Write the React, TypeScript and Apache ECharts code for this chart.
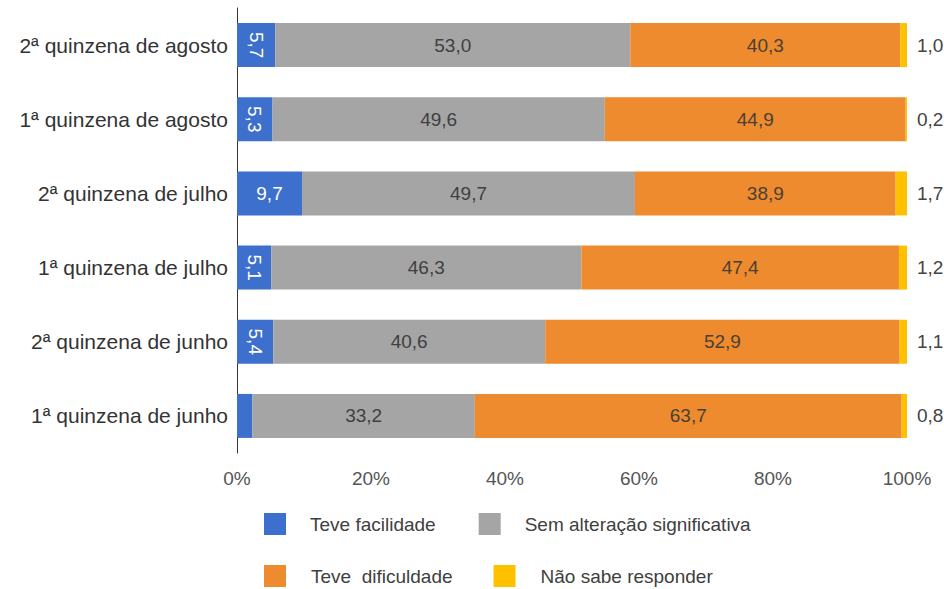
import React, { useEffect, useRef } from "react";
import * as echarts from "echarts";

const categories = [
  "2ª quinzena de agosto",
  "1ª quinzena de agosto",
  "2ª quinzena de julho",
  "1ª quinzena de julho",
  "2ª quinzena de junho",
  "1ª quinzena de junho",
];
const facilidade = [5.7, 5.3, 9.7, 5.1, 5.4, 2.3];
const semAlteracao = [53.0, 49.6, 49.7, 46.3, 40.6, 33.2];
const dificuldade = [40.3, 44.9, 38.9, 47.4, 52.9, 63.7];
const naoSabe = [1.0, 0.2, 1.7, 1.2, 1.1, 0.8];
const xTicks = [0, 20, 40, 60, 80, 100];

const seriesNames = [
  "Teve facilidade",
  "Sem alteração significativa",
  "Teve  dificuldade",
  "Não sabe responder",
];
const colors = ["#3d6fcc", "#a5a5a5", "#ee8b2e", "#ffc000"];

const fmt = (v: number) => v.toFixed(1).replace(".", ",");
const FONT = "'Liberation Sans', Arial, sans-serif";

export default function App() {
  const ref = useRef<HTMLDivElement>(null);
  useEffect(() => {
    if (!ref.current) return;
    const chart = echarts.init(ref.current, undefined, { renderer: "svg" });

    const blueData = facilidade.map((v) => ({
      value: v,
      label: {
        show: v >= 3,
        rotate: v < 9 ? -90 : 0,
      },
    }));

    const labelBase = {
      show: true,
      fontSize: 19,
      fontFamily: FONT,
      formatter: (p: any) => fmt(p.value),
    };

    const legendText = {
      fontSize: 19,
      lineHeight: 20,
      color: "#404040",
      fontFamily: FONT,
    };

    chart.setOption({
      animation: false,
      textStyle: { fontFamily: FONT },
      grid: { left: 237, right: 37, top: 8, bottom: 136, containLabel: false },
      xAxis: {
        type: "value",
        min: 0,
        max: 100,
        interval: 20,
        axisLine: { show: false },
        axisTick: { show: false },
        splitLine: { show: false },
        axisLabel: {
          margin: 16,
          fontSize: 19,
          color: "#555",
          fontFamily: FONT,
          customValues: xTicks,
          formatter: (v: number) => v + "%",
        },
      },
      yAxis: {
        type: "category",
        data: categories,
        inverse: true,
        axisLine: { show: true, lineStyle: { color: "#333", width: 1 } },
        axisTick: { show: false },
        axisLabel: { margin: 9, fontSize: 21, color: "#333", fontFamily: FONT },
      },
      legend: [
        {
          data: [seriesNames[0], seriesNames[1]],
          left: 264,
          top: 513,
          padding: 0,
          orient: "horizontal",
          icon: "rect",
          itemWidth: 22,
          itemHeight: 22,
          itemGap: 43,
          textStyle: { ...legendText, padding: [0, 0, 0, 19] },
        },
        {
          data: [seriesNames[2], seriesNames[3]],
          left: 264,
          top: 565,
          padding: 0,
          orient: "horizontal",
          icon: "rect",
          itemWidth: 22,
          itemHeight: 22,
          itemGap: 41,
          textStyle: { ...legendText, padding: [0, 0, 0, 20] },
        },
      ],
      series: [
        {
          name: seriesNames[0],
          type: "bar",
          stack: "total",
          barWidth: 44,
          itemStyle: { color: colors[0] },
          label: { ...labelBase, position: "inside", color: "#fff" },
          data: blueData,
        },
        {
          name: seriesNames[1],
          type: "bar",
          stack: "total",
          barWidth: 44,
          itemStyle: { color: colors[1] },
          label: { ...labelBase, position: "inside", color: "#404040" },
          data: semAlteracao,
        },
        {
          name: seriesNames[2],
          type: "bar",
          stack: "total",
          barWidth: 44,
          itemStyle: { color: colors[2] },
          label: { ...labelBase, position: "inside", color: "#4a4036" },
          data: dificuldade,
        },
        {
          name: seriesNames[3],
          type: "bar",
          stack: "total",
          barWidth: 44,
          itemStyle: { color: colors[3] },
          label: { ...labelBase, position: "right", distance: 10, color: "#444" },
          data: naoSabe,
        },
      ],
    });
    return () => chart.dispose();
  }, []);
  return (
    <div
      ref={ref}
      style={{ position: "fixed", left: 0, top: 0, width: 944, height: 589, background: "#fff" }}
    />
  );
}
